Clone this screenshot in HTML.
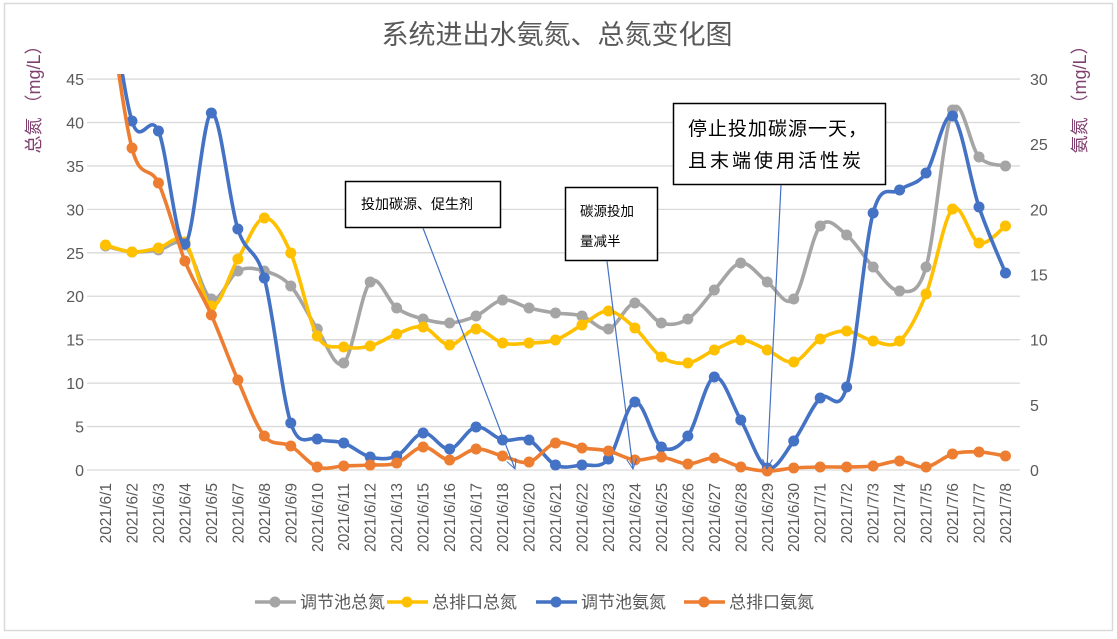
<!DOCTYPE html>
<html><head><meta charset="utf-8">
<style>
html,body{margin:0;padding:0;background:#fff;}
svg{display:block;font-family:"Liberation Sans","Noto Sans CJK SC",sans-serif;}
</style></head><body>
<svg id="s" width="1117" height="639" viewBox="0 0 1117 639" xmlns="http://www.w3.org/2000/svg">
<rect x="4.5" y="3.5" width="1108" height="627" fill="#fff" stroke="#d9d9d9" stroke-width="1.5"/>
<defs><clipPath id="pc"><rect x="80" y="74" width="950" height="410"/></clipPath>
<marker id="ar" markerWidth="12" markerHeight="12" refX="10" refY="5" orient="auto" markerUnits="userSpaceOnUse"><path d="M0,0 L10,5 L0,10" fill="none" stroke="#4472C4" stroke-width="1"/></marker></defs>
<g id="grid"></g>
<text x="557" y="44" text-anchor="middle" font-size="27" fill="#595959">系统进出水氨氮、总氮变化图</text>
<text transform="translate(40,95) rotate(-90)" text-anchor="middle" font-size="18" fill="#7f3f6f">总氮 （mg/L）</text>
<text transform="translate(1086,95) rotate(-90)" text-anchor="middle" font-size="18" fill="#7f3f6f">氨氮 （mg/L）</text>
<g id="ticks" font-size="16" fill="#595959"></g>
<g id="xl" font-size="15.5" fill="#595959"></g>
<g id="series" clip-path="url(#pc)"></g>
<g font-size="14" fill="#000">
<rect x="345.5" y="181.5" width="155" height="46" fill="#fff" stroke="#000" stroke-width="1.5"/>
<text x="361" y="209">投加碳源、促生剂</text>
<rect x="565.5" y="187.5" width="92" height="73" fill="#fff" stroke="#000" stroke-width="1.5"/>
<text x="580" y="216" font-size="13.5">碳源投加</text>
<text x="580" y="246" font-size="13.5">量减半</text>
<rect x="673.5" y="103.5" width="212" height="81" fill="#fff" stroke="#000" stroke-width="1.5"/>
<text x="688" y="135" font-size="19" letter-spacing="1">停止投加碳源一天，</text>
<text x="688" y="167" font-size="19" letter-spacing="3">且末端使用活性炭</text>
</g>
<g stroke="#4472C4" stroke-width="1.2" fill="none">
<line x1="423" y1="228" x2="515" y2="469" marker-end="url(#ar)"/>
<line x1="607" y1="261" x2="633" y2="469" marker-end="url(#ar)"/>
<line x1="781" y1="185" x2="767" y2="469" marker-end="url(#ar)"/>
</g>
<g id="leg" font-size="17" fill="#595959"></g>
</svg>
<script>
var NS="http://www.w3.org/2000/svg",s=document.getElementById('s');
function el(p,t,a,txt){var e=document.createElementNS(NS,t);for(var k in a)e.setAttribute(k,a[k]);if(txt!=null)e.textContent=txt;document.getElementById(p).appendChild(e);return e;}
var y0=470,step=43.44;
for(var i=0;i<=9;i++){var y=y0-i*step;el('grid','line',{x1:87,x2:1020,y1:y,y2:y,stroke:'#d9d9d9','stroke-width':1.3});
el('ticks','text',{x:84,y:y+6,'text-anchor':'end'},String(i*5));}
for(var i=0;i<=6;i++){var y=y0-i*65.16;el('ticks','text',{x:1030,y:y+6},String(i*5));}
var labels=["6/1","6/2","6/3","6/4","6/5","6/7","6/8","6/9","6/10","6/11","6/12","6/13","6/15","6/16","6/17","6/18","6/20","6/21","6/22","6/23","6/24","6/25","6/26","6/27","6/28","6/29","6/30","7/1","7/2","7/3","7/4","7/5","7/6","7/7","7/8"];
function X(i){return 105.5+i*26.47;}
labels.forEach(function(l,i){el('xl','text',{transform:'translate('+(X(i)+5.5)+',483) rotate(-90)','text-anchor':'end'},'2021/'+l);});
var gray=[246,252,250,245,299,271,271,286,329,363,282,308,319,323,316,300,308,313,316,329,303,323,319,290,263,282,299,226,235,267,291,267,110,157,166];
var yel=[245,252,248,242,306,259,218,253,336,347,346,334,327,345,329,343,343,340,325,311,328,357,363,350,340,350,362,339,331,341,341,294,209,243,226];
var blue=[-40,121,131,244,113,229,278,423,439,443,457,456,433,449,427,440,440,465,465,459,402,447,436,377,420,468,441,398,387,213,190,173,116,207,273];
var ora=[-20,148,183,261,315,380,436,446,467,466,465,463,447,460,449,456,462,443,448,451,460,457,464,458,467,471,468,467,467,466,461,467,454,452,456];
function path(ys){var p=ys.map(function(y,i){return [X(i),y];});var d='M'+p[0][0]+','+p[0][1];
for(var i=0;i<p.length-1;i++){var a=p[i-1]||p[i],b=p[i],c=p[i+1],e=p[i+2]||c,t=1/6;
d+=' C'+(b[0]+(c[0]-a[0])*t)+','+(b[1]+(c[1]-a[1])*t)+' '+(c[0]-(e[0]-b[0])*t)+','+(c[1]-(e[1]-b[1])*t)+' '+c[0]+','+c[1];}return d;}
function series(ys,col){el('series','path',{d:path(ys),fill:'none',stroke:col,'stroke-width':3.6,'stroke-linejoin':'round'});
ys.forEach(function(y,i){el('series','circle',{cx:X(i),cy:y,r:5.5,fill:col});});}
series(gray,'#A5A5A5');series(yel,'#FFC000');series(blue,'#4472C4');series(ora,'#ED7D31');
var L=[['调节池总氮','#A5A5A5',255],['总排口总氮','#FFC000',387],['调节池氨氮','#4472C4',536],['总排口氨氮','#ED7D31',684]];
L.forEach(function(l){var x=l[2];el('leg','line',{x1:x,x2:x+41,y1:602,y2:602,stroke:l[1],'stroke-width':3.6});
el('leg','circle',{cx:x+20,cy:602,r:5.5,fill:l[1]});el('leg','text',{x:x+45,y:608},l[0]);});
</script>
</body></html>
